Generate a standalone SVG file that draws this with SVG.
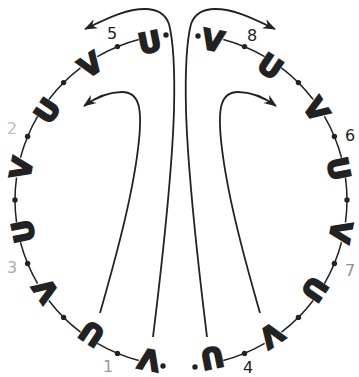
<svg xmlns="http://www.w3.org/2000/svg" width="359" height="377" viewBox="0 0 359 377">
<style>
.ring{fill:none;stroke:#222;stroke-width:1.5}
.flow{fill:none;stroke:#222;stroke-width:1.8}
.dot{fill:#222}
.g{font-family:"DejaVu Sans",sans-serif;font-weight:bold;font-size:28px;fill:#222;stroke:#222;stroke-width:2;text-anchor:middle}
.lbl{font-family:"DejaVu Sans",sans-serif;font-size:16px;text-anchor:middle}
</style>
<defs>
<marker id="ah" viewBox="-14 -7 16 14" refX="0" refY="0" markerWidth="16" markerHeight="14" markerUnits="userSpaceOnUse" orient="auto">
<path d="M1,0 L-12,-5 L-8,0 L-12,5 Z" fill="#222"/>
</marker>
</defs>
<rect width="359" height="377" fill="#fff"/>
<g id="connectors">
<path class="ring" d="M223.26,39.47 A166,166 0 0 1 264.63,56.60 M281.48,67.86 A166,166 0 0 1 313.14,99.52 M324.40,116.37 A166,166 0 0 1 341.53,157.74 M345.48,177.61 A166,166 0 0 1 345.48,222.39 M341.53,242.26 A166,166 0 0 1 324.40,283.63 M313.14,300.48 A166,166 0 0 1 281.48,332.14 M264.63,343.40 A166,166 0 0 1 223.26,360.53"/>
<path class="ring" d="M138.74,39.47 A166,166 0 0 0 97.37,56.60 M80.52,67.86 A166,166 0 0 0 48.86,99.52 M37.60,116.37 A166,166 0 0 0 20.47,157.74 M16.52,177.61 A166,166 0 0 0 16.52,222.39 M20.47,242.26 A166,166 0 0 0 37.60,283.63 M48.86,300.48 A166,166 0 0 0 80.52,332.14 M97.37,343.40 A166,166 0 0 0 138.74,360.53"/>
<path class="flow" marker-end="url(#ah)" d="M153,337 C160,280 172,180 174,110 C175,70 173,40 169,24 C165,13 157,9 145,9 C125,9 106,19 85,29"/>
<path class="flow" marker-end="url(#ah)" d="M207,337 C200,280 188,180 186,110 C185,70 187,40 191,24 C195,13 203,9 215,9 C235,9 254,19 275,29"/>
<path class="flow" marker-end="url(#ah)" d="M100,313 C118,250 134,190 139,140 C142,110 140,92 122,92 C108,92 95,98 84,106"/>
<path class="flow" marker-end="url(#ah)" d="M260,313 C242,250 226,190 221,140 C218,110 220,92 238,92 C252,92 265,98 276,106"/>
</g>
<g id="dots">
<circle class="dot" cx="347" cy="200" r="2.7"/>
<circle class="dot" cx="334.4" cy="263.5" r="2.7"/>
<circle class="dot" cx="298.4" cy="317.4" r="2.7"/>
<circle class="dot" cx="244.5" cy="353.4" r="2.7"/>
<circle class="dot" cx="334.4" cy="136.5" r="2.7"/>
<circle class="dot" cx="298.4" cy="82.6" r="2.7"/>
<circle class="dot" cx="244.5" cy="46.6" r="2.7"/>
<circle class="dot" cx="15" cy="200" r="2.7"/>
<circle class="dot" cx="27.6" cy="263.5" r="2.7"/>
<circle class="dot" cx="63.6" cy="317.4" r="2.7"/>
<circle class="dot" cx="117.5" cy="353.4" r="2.7"/>
<circle class="dot" cx="27.6" cy="136.5" r="2.7"/>
<circle class="dot" cx="63.6" cy="82.6" r="2.7"/>
<circle class="dot" cx="117.5" cy="46.6" r="2.7"/>
<circle class="dot" cx="166" cy="35" r="2.7"/>
<circle class="dot" cx="163" cy="366" r="2.7"/>
<circle class="dot" cx="198" cy="36" r="2.7"/>
<circle class="dot" cx="195" cy="367" r="2.7"/>
</g>
<g id="glyph-U1" transform="translate(149.6,42.1) rotate(-11.25)"><text class="g" x="0" y="10.2">U</text></g>
<g id="glyph-V1" transform="translate(90.4,64.5) rotate(-33.75)"><text class="g" x="0" y="10.2">V</text></g>
<g id="glyph-U2" transform="translate(47.1,110.6) rotate(-56.25)"><text class="g" x="0" y="10.2">U</text></g>
<g id="glyph-V2" transform="translate(21.1,168.2) rotate(-78.75)"><text class="g" x="0" y="10.2">V</text></g>
<g id="glyph-U3" transform="translate(23.1,231.4) rotate(-101.25)"><text class="g" x="0" y="10.2">U</text></g>
<g id="glyph-V3" transform="translate(45.5,290.6) rotate(-123.75)"><text class="g" x="0" y="10.2">V</text></g>
<g id="glyph-U4" transform="translate(91.6,333.9) rotate(-146.25)"><text class="g" x="0" y="10.2">U</text></g>
<g id="glyph-V4" transform="translate(149.2,359.9) rotate(-168.75)"><text class="g" x="0" y="10.2">V</text></g>
<g id="glyph-V5" transform="translate(212.8,40.1) rotate(11.25)"><text class="g" x="0" y="10.2">V</text></g>
<g id="glyph-U5" transform="translate(270.4,66.1) rotate(33.75)"><text class="g" x="0" y="10.2">U</text></g>
<g id="glyph-V6" transform="translate(316.5,109.4) rotate(56.25)"><text class="g" x="0" y="10.2">V</text></g>
<g id="glyph-U6" transform="translate(338.9,168.6) rotate(78.75)"><text class="g" x="0" y="10.2">U</text></g>
<g id="glyph-V7" transform="translate(340.9,231.8) rotate(101.25)"><text class="g" x="0" y="10.2">V</text></g>
<g id="glyph-U7" transform="translate(314.9,289.4) rotate(123.75)"><text class="g" x="0" y="10.2">U</text></g>
<g id="glyph-V8" transform="translate(271.6,335.5) rotate(146.25)"><text class="g" x="0" y="10.2">V</text></g>
<g id="glyph-U8" transform="translate(212.4,357.9) rotate(168.75)"><text class="g" x="0" y="10.2">U</text></g>
<g id="labels">
<text class="lbl" x="108" y="372" fill="#999">1</text>
<text class="lbl" x="12" y="134" fill="#c0c0c0">2</text>
<text class="lbl" x="12" y="273" fill="#aaa">3</text>
<text class="lbl" x="248" y="373" fill="#222">4</text>
<text class="lbl" x="112" y="39" fill="#222">5</text>
<text class="lbl" x="350" y="141" fill="#222">6</text>
<text class="lbl" x="350" y="276" fill="#909090">7</text>
<text class="lbl" x="252" y="41" fill="#222">8</text>
</g>
</svg>
